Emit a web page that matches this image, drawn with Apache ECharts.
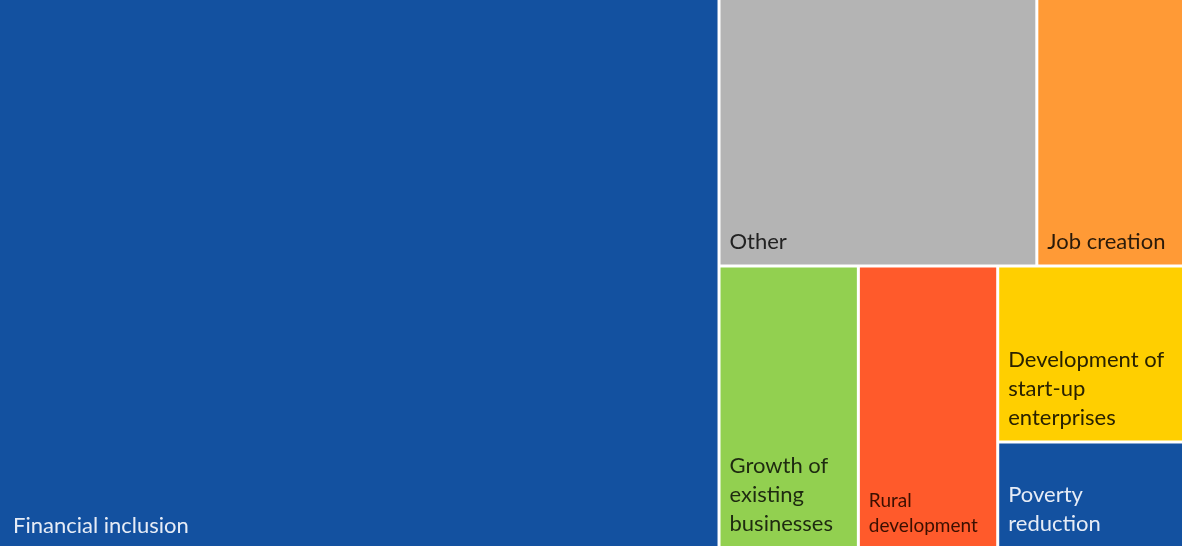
<!DOCTYPE html>
<html>
<head>
<meta charset="utf-8">
<script src="https://cdn.jsdelivr.net/npm/echarts@6/dist/echarts.min.js"></script>
<style>
html,body{margin:0;padding:0;background:#fff;}
#chart{width:1182px;height:546px;}
</style>
</head>
<body>
<div id="chart"></div>
<script>
// Data
const categories = ['Financial inclusion', 'Other', 'Job creation', 'Growth of existing businesses', 'Rural development', 'Development of start-up enterprises', 'Poverty reduction'];
const values = [60.5, 13, 6, 6, 6, 5, 3];
const labelText = ['Financial inclusion', 'Other', 'Job creation', 'Growth of\nexisting\nbusinesses', 'Rural\ndevelopment', 'Development of\nstart-up\nenterprises', 'Poverty\nreduction'];

// Styles
const fillColors = ['#1351A0', '#B4B4B4', '#FF9A36', '#92D050', '#FF5A2B', '#FFCF00', '#1351A0'];
const textColors = ['#e6ecf6', '#222222', '#2a1a0a', '#1e2a10', '#3a0f00', '#2a2200', '#e6ecf6'];
const fontSizes = [22, 22, 22, 22, 19, 22, 22];
const lineHeights = [29, 29, 29, 29, 25, 29, 29];

const chart = echarts.init(document.getElementById('chart'));
const data = categories.map((c, i) => ({
  name: c,
  value: values[i],
  itemStyle: { color: fillColors[i] },
  label: {
    formatter: () => labelText[i],
    color: textColors[i],
    fontSize: fontSizes[i],
    lineHeight: lineHeights[i],
    padding: i === 0 ? [0, 0, 6, 13] : [0, 0, 8, 9]
  }
}));

chart.setOption({
  animation: false,
  series: [{
    type: 'treemap',
    left: 0, top: 0, right: 0, bottom: 0,
    width: 1182, height: 546,
    roam: false,
    nodeClick: false,
    sort: false,
    squareRatio: 0.9,
    breadcrumb: { show: false },
    label: {
      show: true,
      position: 'insideBottomLeft',
      fontFamily: 'Lato, "Open Sans", sans-serif',
      fontWeight: 'normal',
      overflow: 'none'
    },
    upperLabel: { show: false },
    levels: [
      { itemStyle: { borderWidth: 0, gapWidth: 3, borderColor: '#ffffff' } },
      { itemStyle: { borderWidth: 0, gapWidth: 0 } }
    ],
    data: data
  }]
});
</script>
</body>
</html>
